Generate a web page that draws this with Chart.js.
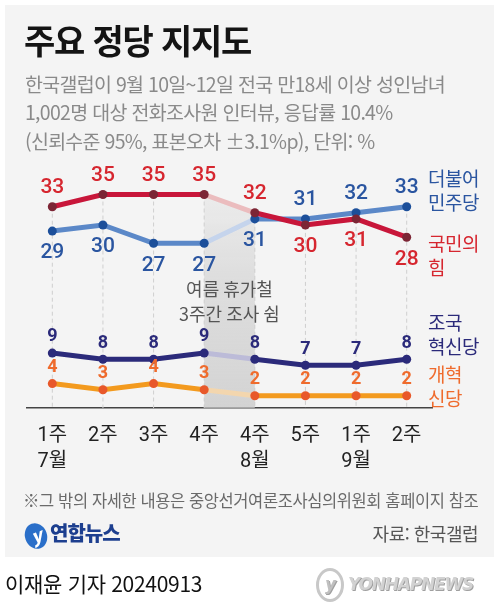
<!DOCTYPE html>
<html lang="ko">
<head>
<meta charset="utf-8">
<script src="https://cdn.jsdelivr.net/npm/chart.js@4.4.1/dist/chart.umd.min.js"></script>
<style>
  html, body { margin: 0; padding: 0; background: #fff; }
  body { width: 499px; height: 606px; position: relative; overflow: hidden; font-family: "Noto Sans CJK KR", "Noto Sans", sans-serif; }
  #panel { position: absolute; left: 5px; top: 5px; width: 489px; height: 552px; background: #f4f4f4; }
  #chart { position: absolute; left: 0; top: 0; }
  .t { position: absolute; white-space: nowrap; }
  #title { left: 24px; top: 15px; font-size: 34px; font-weight: 700; color: #141414; letter-spacing: -1.2px; }
  .sub { left: 25px; font-size: 19.5px; color: #8a8a8a; letter-spacing: -0.7px; line-height: 1; }
  .side { left: 428px; font-size: 19px; line-height: 24px; letter-spacing: -0.5px; }
  #note { left: 23px; top: 488px; font-size: 16.5px; color: #6a6a6a; letter-spacing: -0.4px; }
  #src { right: 21px; top: 520px; font-size: 18px; color: #555; letter-spacing: -0.5px; }
  #logo { left: 25px; top: 518px; font-size: 20px; font-weight: 900; color: #1d3f8f; letter-spacing: -1px; }
  #logo span.o { display: inline-block; width: 22px; height: 26px; border-radius: 50%; background: #2a6fc9; color: #fff; font-style: italic; font-size: 18px; text-align: center; line-height: 24px; vertical-align: middle; margin-right: 3px; transform: rotate(-20deg); }
  #byline { left: 5px; top: 568px; font-size: 21px; color: #111; letter-spacing: -0.3px; }
  #wm { left: 316px; top: 568px; font-size: 17px; font-weight: 900; font-style: italic; color: #d2d2d2; letter-spacing: -1.2px; font-family: "DejaVu Sans", sans-serif;
        text-shadow: 1px 1px 0 #a0a0a0, -1px -1px 0 #fff; }
  #wm span.o { display: inline-block; width: 22px; height: 28px; border-radius: 50%; border: 3px solid #c8c8c8; color: #c0c0c0; font-size: 17px; text-align: center; line-height: 26px; vertical-align: middle; margin-right: 4px; }
</style>
</head>
<body>
<div id="panel"></div>
<canvas id="chart" width="499" height="606"></canvas>

<div class="t" id="title">주요 정당 지지도</div>
<div class="t sub" style="top:74px">한국갤럽이 9월 10일~12일 전국 만18세 이상 성인남녀</div>
<div class="t sub" style="top:102px">1,002명 대상 전화조사원 인터뷰, 응답률 10.4%</div>
<div class="t sub" style="top:131px">(신뢰수준 95%, 표본오차 ±3.1%p), 단위: %</div>

<div class="t side" style="top:166px;color:#2a55a0">더불어<br>민주당</div>
<div class="t side" style="top:231px;color:#d6262f">국민의<br>힘</div>
<div class="t side" style="top:310px;color:#2b2a7a">조국<br>혁신당</div>
<div class="t side" style="top:362px;color:#ef6b2d">개혁<br>신당</div>

<div class="t" id="note">※그 밖의 자세한 내용은 중앙선거여론조사심의위원회 홈페이지 참조</div>
<div class="t" id="logo"><span class="o">y</span>연합뉴스</div>
<div class="t" id="src">자료: 한국갤럽</div>
<div class="t" id="byline">이재윤 기자 20240913</div>
<div class="t" id="wm"><span class="o">y</span>YONHAPNEWS</div>

<script>
// weekly survey rounds (week / month)
const weeks = [['1주', '7월'], ['2주', ''], ['3주', ''], ['4주', ''], ['4주', '8월'], ['5주', ''], ['1주', '9월'], ['2주', '']];

// party support, %
const minjoo = [29, 30, 27, 27, 31, 31, 32, 33];   // 더불어민주당
const ppp = [33, 35, 35, 35, 32, 30, 31, 28];      // 국민의힘
const cho = [9, 8, 8, 9, 8, 7, 7, 8];              // 조국혁신당
const reform = [4, 3, 4, 3, 2, 2, 2, 2];           // 개혁신당

const GAP_INDEX = 3; // segment 4주(7월) -> 4주(8월) had no survey for 3 weeks

function gapColor(faded) {
    return ctx => ctx.p0DataIndex === GAP_INDEX ? faded : undefined;
}

function series(data, line, faded, point, label, size, order) {
    return {
        data: data,
        borderColor: line,
        borderWidth: 5,
        pointRadius: 4.5,
        pointHoverRadius: 4.5,
        pointBackgroundColor: point,
        pointBorderWidth: 0,
        tension: 0,
        order: order,
        segment: { borderColor: gapColor(faded) },
        labelColor: label,
        labelSize: size
    };
}

// dashed drop lines + shaded gap band behind the lines
const backdrop = {
    id: 'backdrop',
    beforeDatasetsDraw(chart) {
        const ctx = chart.ctx;
        const area = chart.chartArea;
        const metas = chart.data.datasets.map((_, i) => chart.getDatasetMeta(i));
        ctx.save();
        ctx.strokeStyle = '#cfcfcf';
        ctx.lineWidth = 1;
        ctx.setLineDash([4, 3]);
        weeks.forEach((_, i) => {
            const x = metas[0].data[i].x;
            const top = Math.min(...metas.map(m => m.data[i].y));
            ctx.beginPath();
            ctx.moveTo(x, top);
            ctx.lineTo(x, area.bottom);
            ctx.stroke();
        });
        ctx.setLineDash([]);

        const red = chart.getDatasetMeta(0).data;
        const a = red[GAP_INDEX], b = red[GAP_INDEX + 1];
        const grad = ctx.createLinearGradient(0, a.y, 0, area.bottom);
        grad.addColorStop(0, 'rgba(210,210,210,0.25)');
        grad.addColorStop(0.35, 'rgba(205,205,205,0.55)');
        grad.addColorStop(1, 'rgba(200,200,200,0.75)');
        ctx.fillStyle = grad;
        ctx.beginPath();
        ctx.moveTo(a.x, a.y);
        ctx.lineTo(b.x, b.y);
        ctx.lineTo(b.x, area.bottom);
        ctx.lineTo(a.x, area.bottom);
        ctx.closePath();
        ctx.fill();

        ctx.fillStyle = '#555';
        ctx.font = '18px "Noto Sans CJK KR", sans-serif';
        ctx.textAlign = 'center';
        ctx.textBaseline = 'middle';
        const cx = (a.x + b.x) / 2;
        ctx.fillText('여름 휴가철', cx, 289);
        ctx.fillText('3주간 조사 쉼', cx, 314);
        ctx.restore();
    }
};

// value labels; the two big parties put the leader's label above and the other below
const valueLabels = {
    id: 'valueLabels',
    afterDatasetsDraw(chart) {
        const ctx = chart.ctx;
        ctx.save();
        ctx.textAlign = 'center';
        ctx.textBaseline = 'middle';
        chart.data.datasets.forEach((ds, di) => {
            const meta = chart.getDatasetMeta(di);
            ctx.fillStyle = ds.labelColor;
            ctx.font = (ds.labelSize > 18 ? '500 ' : '700 ') + ds.labelSize + 'px Roboto, "Noto Sans CJK KR", sans-serif';
            meta.data.forEach((pt, i) => {
                let above = true;
                if (ds.rival !== undefined) {
                    above = ds.data[i] > chart.data.datasets[ds.rival].data[i];
                }
                const dy = above ? -(ds.labelSize * 0.9) : (ds.labelSize * 1.05);
                ctx.fillText(String(ds.data[i]), pt.x, pt.y + dy);
            });
        });
        ctx.restore();
    }
};

const dsPpp = series(ppp, '#c8163a', '#ebbcbe', '#7c2535', '#d6262f', 21, 0);
const dsMinjoo = series(minjoo, '#5b88c8', '#c5d4ec', '#1c4f9a', '#2a55a0', 21, 1);
const dsCho = series(cho, '#2b2a7a', '#bcbbd8', '#2b2a7a', '#2b2a7a', 18, 2);
const dsReform = series(reform, '#f39a1e', '#f3d6ae', '#e8582a', '#ef6b2d', 18, 3);
dsPpp.rival = 1;
dsMinjoo.rival = 0;

new Chart(document.getElementById('chart'), {
    type: 'line',
    data: {
        labels: weeks,
        datasets: [dsPpp, dsMinjoo, dsCho, dsReform]
    },
    options: {
        responsive: false,
        animation: false,
        events: [],
        layout: { padding: { left: 27, right: 67, top: 164, bottom: 138 } },
        plugins: { legend: { display: false }, tooltip: { enabled: false } },
        scales: {
            x: {
                offset: true,
                grid: { display: false },
                border: { display: true, color: '#444', width: 1.5 },
                ticks: {
                    color: '#222',
                    padding: 7,
                    font: { size: 20, family: 'Roboto, "Noto Sans CJK KR", sans-serif', lineHeight: 1.3 },
                    maxRotation: 0,
                    autoSkip: false
                },
                afterFit(scale) { scale.height = 60; }
            },
            y: {
                display: false,
                min: 0,
                max: 40
            }
        }
    },
    plugins: [backdrop, valueLabels]
});
</script>
</body>
</html>
